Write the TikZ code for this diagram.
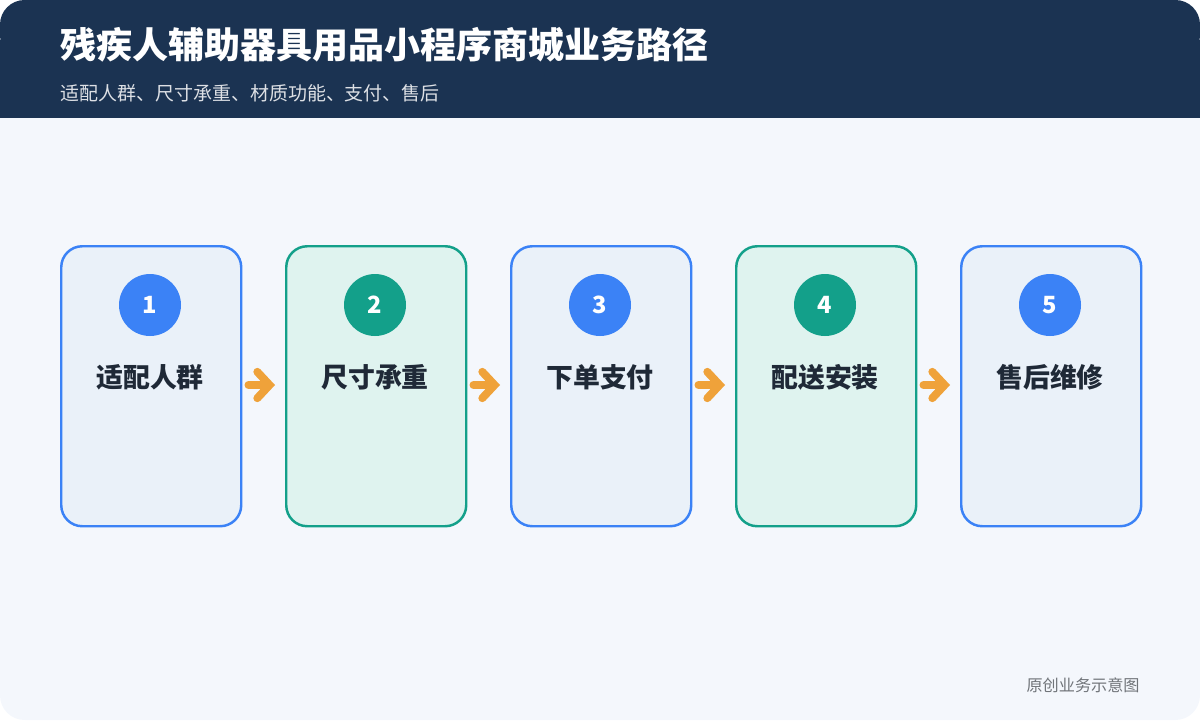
\documentclass[tikz,border=0pt]{standalone}
\usepackage{fontspec}
\setmainfont{Noto Sans CJK SC}
\usetikzlibrary{arrows.meta,positioning}
\definecolor{navy}{HTML}{1B3352}
\definecolor{pagebg}{HTML}{F4F7FC}
\definecolor{blueline}{HTML}{3B82F6}
\definecolor{bluefill}{HTML}{EAF1F9}
\definecolor{greenline}{HTML}{13A08A}
\definecolor{greenfill}{HTML}{DFF3EF}
\definecolor{darktext}{HTML}{1F2937}
\definecolor{flow}{HTML}{EFA23A}
\tikzset{
  step/.style={draw=#1line, fill=#1fill, line width=1.4pt, rounded corners=12pt,
    minimum width=180*0.02cm, minimum height=280*0.02cm, anchor=north west},
  badge/.style={circle, fill=#1line, minimum size=62*0.02cm, inner sep=0pt,
    text=white, font=\fontsize{13.5}{14}\selectfont\bfseries},
  steplabel/.style={text=darktext, font=\fontsize{15.3}{16}\selectfont\bfseries},
  flowarrow/.style={draw=flow, line width=4.5pt, line cap=round,
    -{Straight Barb[length=7pt,width=15pt,line cap=round]},
    shorten <=6*0.02cm, shorten >=10*0.02cm}
}
\begin{document}
\begin{tikzpicture}[x=0.02cm, y=-0.02cm, inner sep=0pt]
\useasboundingbox (0,0) rectangle (1200,720);
\fill[pagebg, rounded corners=14pt] (0,0) rectangle (1200,720);
\fill[navy, rounded corners=14pt] (0,0) rectangle (1200,60);
\fill[navy] (0,40) rectangle (1200,118);
\node[anchor=west, text=white, font=\fontsize{20.5}{21}\selectfont\bfseries]
  (title) at (60,45) {残疾人辅助器具用品小程序商城业务路径};
\node[anchor=west, text=white!85!navy, font=\fontsize{10.8}{11}\selectfont]
  (subtitle) at (60,93) {适配人群、尺寸承重、材质功能、支付、售后};

% steps
\foreach \i/\c/\t in {1/blue/适配人群, 2/green/尺寸承重, 3/blue/下单支付, 4/green/配送安装, 5/blue/售后维修}{
  \node[step=\c] (s\i) at ({60+225*(\i-1)},245) {};
  \node[badge=\c] (n\i) at ({150+225*(\i-1)},305) {\i};
  \node[steplabel] (l\i) at ({150+225*(\i-1)},377) {\t};
}
\foreach \i/\j in {1/2, 2/3, 3/4, 4/5}
  \draw[flowarrow] (s\i.east |- 0,385) -- (s\j.west |- 0,385);

\node[anchor=east, text=gray!85!navy, font=\fontsize{9.2}{10}\selectfont]
  (footer) at (1140,685) {原创业务示意图};
\end{tikzpicture}
\end{document}
